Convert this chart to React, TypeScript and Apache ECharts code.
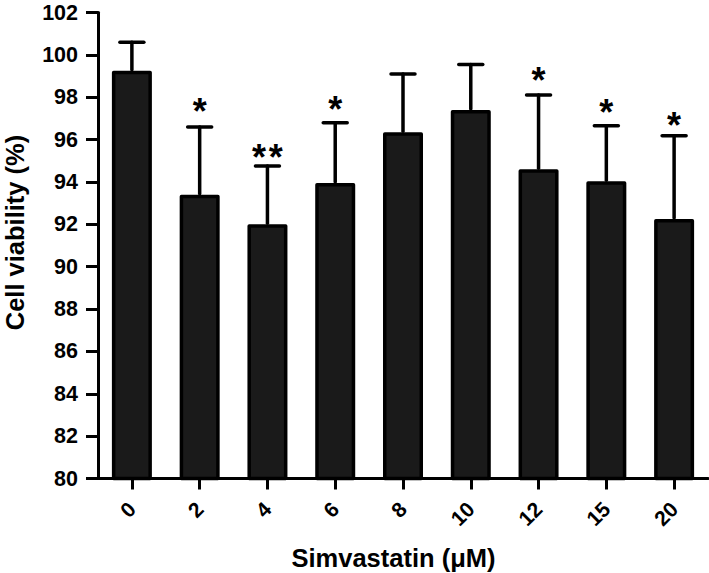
import React, { useEffect, useRef } from "react";
import * as echarts from "echarts";

const categories = ["0", "2", "4", "6", "8", "10", "12", "15", "20"];
const meanValues = [99.25, 93.4, 92.0, 93.95, 96.35, 97.4, 94.6, 94.03, 92.25];
const errorTops = [100.6, 96.6, 94.75, 96.8, 99.1, 99.55, 98.1, 96.65, 96.18];
const significance = ["", "*", "**", "*", "", "", "*", "*", "*"];
const markCenters = [0, 97.63, 95.42, 97.72, 0, 0, 99.05, 97.56, 96.93];
const yTicks = { min: 80, max: 102, interval: 2 };

const FONT = "'Liberation Sans', Arial, sans-serif";

export default function App() {
  const ref = useRef<HTMLDivElement>(null);

  useEffect(() => {
    if (!ref.current) return;
    const chart = echarts.init(ref.current, undefined, { renderer: "svg" });

    const errData = categories.map((c, i) => [i, meanValues[i], errorTops[i], markCenters[i]]);

    chart.setOption({
      animation: false,
      backgroundColor: "#ffffff",
      grid: {
        left: 98,
        right: 1,
        top: 12.5,
        bottom: 94.5,
        containLabel: false,
        outerBoundsMode: "none",
      },
      xAxis: {
        type: "category",
        data: categories,
        name: "Simvastatin (μM)",
        nameLocation: "middle",
        nameGap: 66,
        nameTextStyle: {
          fontFamily: FONT,
          fontWeight: "bold",
          fontSize: 25.5,
          color: "#000",
          padding: [0, 19, 0, 0],
        },
        axisLine: { show: true, lineStyle: { color: "#000", width: 3 } },
        axisTick: { show: true, alignWithLabel: true, length: 11, lineStyle: { color: "#000", width: 3 } },
        axisLabel: {
          rotate: 45,
          margin: 27,
          fontFamily: FONT,
          fontWeight: "bold",
          fontSize: 21,
          color: "#000",
        },
        splitLine: { show: false },
      },
      yAxis: {
        type: "value",
        min: yTicks.min,
        max: yTicks.max,
        interval: yTicks.interval,
        name: "Cell viability (%)",
        nameLocation: "middle",
        nameGap: 71,
        nameRotate: 90,
        nameTextStyle: {
          fontFamily: FONT,
          fontWeight: "bold",
          fontSize: 25.5,
          lineHeight: 24,
          color: "#000",
          padding: [0, 0, 0, 26],
        },
        axisLine: { show: true, lineStyle: { color: "#000", width: 3 } },
        axisTick: { show: true, length: 12, lineStyle: { color: "#000", width: 3 } },
        axisLabel: {
          margin: 20,
          fontFamily: FONT,
          fontWeight: "bold",
          fontSize: 21.5,
          lineHeight: 19,
          color: "#000",
        },
        splitLine: { show: false },
      },
      series: [
        {
          type: "bar",
          data: meanValues,
          barWidth: 40,
          z: 2,
          itemStyle: {
            color: "#1a1a1a",
            borderColor: "#000",
            borderWidth: 3.5,
            borderJoin: "round",
          },
        },
        {
          type: "custom",
          z: 3,
          data: errData,
          renderItem: (params: any, api: any) => {
            const x = api.value(0);
            const mean = api.value(1);
            const top = api.value(2);
            const label = significance[params.dataIndex];
            const pBase = api.coord([x, mean]);
            const pTop = api.coord([x, top]);
            const half = 12;
            const style = { stroke: "#000", lineWidth: 3.5, lineCap: "round" };
            const children: any[] = [
              {
                type: "line",
                shape: { x1: pBase[0], y1: pBase[1] - 1, x2: pTop[0], y2: pTop[1] },
                style,
              },
              {
                type: "line",
                shape: { x1: pTop[0] - half, y1: pTop[1], x2: pTop[0] + half, y2: pTop[1] },
                style,
              },
            ];
            if (label) {
              const pMark = api.coord([x, api.value(3)]);
              const n = label.length;
              const spacing = 16.7;
              for (let k = 0; k < n; k++) {
                children.push({
                  type: "text",
                  x: pMark[0] + (k - (n - 1) / 2) * spacing,
                  y: pMark[1] + 6,
                  style: {
                    text: label[k],
                    fontFamily: FONT,
                    fontWeight: "bold",
                    fontSize: 36,
                    fill: "#000",
                    align: "center",
                    verticalAlign: "middle",
                  },
                });
              }
            }
            return { type: "group", children };
          },
        },
      ],
    });

    return () => chart.dispose();
  }, []);

  return (
    <div
      ref={ref}
      style={{ position: "absolute", left: 0, top: 0, width: 709, height: 573 }}
    />
  );
}
